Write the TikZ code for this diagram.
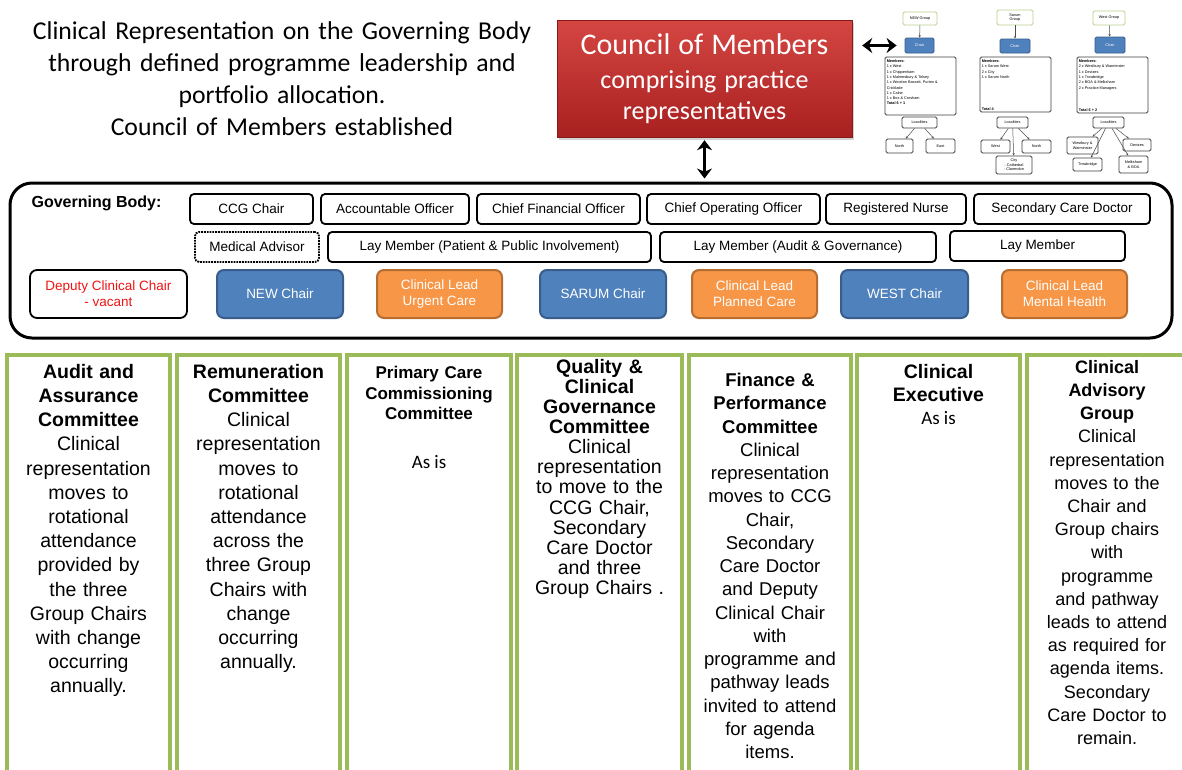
\documentclass[tikz,border=0pt]{standalone}
\usepackage{fontspec}
\setmainfont{Liberation Sans}
\newfontfamily\calfont{Carlito}
\usetikzlibrary{arrows.meta}
\usetikzlibrary{shadows}

\definecolor{chairblue}{RGB}{79,129,189}
\definecolor{chairedge}{RGB}{56,93,138}
\definecolor{leadorange}{RGB}{247,150,70}
\definecolor{leadedge}{RGB}{182,109,49}
\definecolor{comgreen}{RGB}{155,187,89}
\definecolor{counciltop}{RGB}{212,70,66}
\definecolor{councilbot}{RGB}{168,32,32}
\definecolor{vacantred}{RGB}{240,20,20}

\newcommand{\widesp}[1]{\spaceskip=#1\relax}

\tikzset{
  gbbox/.style={draw, line width=1.8pt, rounded corners=4pt, minimum height=30pt, inner sep=0pt, font=\fontsize{13.5}{16}\selectfont},
  chairbox/.style={fill=chairblue, draw=chairedge, line width=2pt, rounded corners=7pt, minimum height=48pt, text=white, align=center, inner sep=0pt, font=\fontsize{13.5}{16}\selectfont},
  leadbox/.style={chairbox, fill=leadorange, draw=leadedge},
  council/.style={top color=counciltop, bottom color=councilbot, draw=councilbot!80!black, line width=0.4pt, drop shadow={opacity=0.35, shadow xshift=2pt, shadow yshift=-3pt}, minimum width=295pt, minimum height=117pt, align=center, inner sep=0pt, text=white, font=\calfont\fontsize{26}{31}\selectfont\widesp{8pt}},
  combox/.style={draw=comgreen, line width=4pt, inner sep=0pt, outer sep=0pt, anchor=north west},
  comtext/.style={anchor=north, align=center, inner sep=0pt},
  minibox/.style={draw=black!75, line width=0.8pt, rounded corners=1.5pt, inner sep=0pt, fill=white, align=center, font=\fontsize{3.8}{4.4}\selectfont},
  minigroup/.style={minibox, draw=comgreen!70},
  minichair/.style={minibox, fill=chairblue, draw=chairedge, text=white},
  minilist/.style={anchor=north west, align=left, inner sep=0pt, font=\fontsize{3.8}{5.3}\selectfont},
  miniarrow/.style={-{Stealth[length=2.5pt,width=2.2pt]}, draw=black!70, line width=0.5pt},
  bigarrow/.style={{Stealth[length=10pt,width=15pt]}-{Stealth[length=10pt,width=15pt]}, line width=3.5pt},
}

\begin{document}
\begin{tikzpicture}[x=1pt, y=-1pt]
  \useasboundingbox (0,0) rectangle (1182,769);
  \fill[white] (0,0) rectangle (1182,769);
  \clip (0,0) rectangle (1182,769);

  % heading and council
  \node[anchor=north, align=center, text width=560pt, inner sep=0pt, font=\calfont\fontsize{25.7}{32}\selectfont\widesp{9.6pt}] (intro) at (282,21) {Clinical Representation on the Governing Body\\through defined programme leadership and\\portfolio allocation.\\Council of Members established};
  \node[council] (council) at (704.5,78.5) {{\fontsize{30}{36}\selectfont Council of Members}\\[3pt]comprising practice\\representatives};

  % group charts
  \node[minigroup, minimum width=34pt, minimum height=13pt] (ngroup) at (920,18.5) {NEW Group};
  \node[minichair, minimum width=29pt, minimum height=15pt] (nchair) at (919.5,45.5) {Chair};
  \node[minibox, minimum width=71pt, minimum height=58pt] (nmem) at (920.5,86) {};
  \node[minilist] (nlist) at ([xshift=2pt,yshift=-3pt]nmem.north west) {\textbf{Members:}\\1 x West\\1 x Chippenham\\1 x Malmesbury \& Tolsey\\1 x Wootton Bassett, Purton \&\\Cricklade\\1 x Calne\\1 x Box \& Corsham\\\textbf{Total 6 + 1}};
  \node[minibox, minimum width=35pt, minimum height=11pt] (nloc) at (919.5,122.5) {Localities};
  \node[minibox, minimum width=27pt, minimum height=14pt] (nnorth) at (899.5,146) {North};
  \node[minibox, minimum width=29pt, minimum height=14pt] (neast) at (940.5,146) {East};

  \node[minigroup, minimum width=36pt, minimum height=15pt] (sgroup) at (1015,17.5) {Sarum\\Group};
  \node[minichair, minimum width=30pt, minimum height=14pt] (schair) at (1015,46) {Chair};
  \node[minibox, minimum width=71pt, minimum height=55pt] (smem) at (1015.5,84.5) {};
  \node[minilist] (slist) at ([xshift=2pt,yshift=-3pt]smem.north west) {\textbf{Members:}\\1 x Sarum West\\2 x City\\1 x Sarum North};
  \node[minilist, anchor=south west] (stotal) at ([xshift=2pt,yshift=2pt]smem.south west) {\textbf{Total 4}};
  \node[minibox, minimum width=31pt, minimum height=11pt] (sloc) at (1012.5,122.5) {Localities};
  \node[minibox, minimum width=29pt, minimum height=13pt] (swest) at (995.5,146.5) {West};
  \node[minibox, minimum width=29pt, minimum height=13pt] (snorth) at (1036.5,146.5) {North};
  \node[minibox, minimum width=36pt, minimum height=18pt] (scity) at (1014,165) {City\\- Cathedral\\- Clarendon};

  \node[minigroup, minimum width=32pt, minimum height=14pt] (wgroup) at (1109,18) {West Group};
  \node[minichair, minimum width=30pt, minimum height=16pt] (wchair) at (1110,45) {Chair};
  \node[minibox, minimum width=71pt, minimum height=56pt] (wmem) at (1112.5,85) {};
  \node[minilist] (wlist) at ([xshift=2pt,yshift=-3pt]wmem.north west) {\textbf{Members:}\\2 x Westbury \& Warminster\\1 x Devizes\\1 x Trowbridge\\2 x BOA \& Melksham\\2 x Practice Managers};
  \node[minilist, anchor=south west] (wtotal) at ([xshift=2pt,yshift=2pt]wmem.south west) {\textbf{Total 6 + 2}};
  \node[minibox, minimum width=31pt, minimum height=11pt] (wloc) at (1108.5,122.5) {Localities};
  \node[minibox, minimum width=31pt, minimum height=17pt] (wwest) at (1082.5,145.5) {Westbury \&\\Warminster};
  \node[minibox, minimum width=28pt, minimum height=12pt] (wdev) at (1137,145) {Devizes};
  \node[minibox, minimum width=29pt, minimum height=13pt] (wtrow) at (1087.5,164.5) {Trowbridge};
  \node[minibox, minimum width=29pt, minimum height=17pt] (wmelk) at (1133.5,164.5) {Melksham\\\& BOA};

  \draw[miniarrow] (ngroup) -- (nchair);
  \draw[miniarrow] (nloc) -- (nnorth);
  \draw[miniarrow] (nloc) -- (neast);
  \draw[miniarrow] (sgroup) -- (schair);
  \draw[miniarrow] (sloc) -- (swest);
  \draw[miniarrow] (sloc) -- (scity);
  \draw[miniarrow] (sloc) -- (snorth);
  \draw[miniarrow] (wgroup) -- (wchair);
  \draw[miniarrow] (wloc) -- (wwest);
  \draw[miniarrow] (wloc) -- (wtrow);
  \draw[miniarrow] (wloc) -- (wmelk);
  \draw[miniarrow] (wloc) -- (wdev);

  % governing body
  \node[draw, line width=3pt, rounded corners=22pt, minimum width=1162pt, minimum height=155pt, inner sep=0pt] (gb) at (591,260.5) {};
  \node[inner sep=0pt, font=\bfseries\fontsize{16}{18}\selectfont] (gblabel) at (96.5,203.5) {Governing Body:};

  \node[gbbox, minimum width=123pt] (ccg) at (251.5,209) {CCG Chair};
  \node[gbbox, minimum width=148pt] (ao) at (395,209) {Accountable Officer};
  \node[gbbox, minimum width=163pt] (cfo) at (558.5,209) {Chief Financial Officer};
  \node[gbbox, minimum width=173pt] (coo) at (733.5,209) {Chief Operating Officer};
  \node[gbbox, minimum width=140pt] (nurse) at (896,209) {Registered Nurse};
  \node[gbbox, minimum width=176pt] (scd) at (1062,209) {Secondary Care Doctor};

  \node[gbbox, densely dotted, minimum width=124pt] (medadv) at (257,247) {Medical Advisor};
  \node[gbbox, minimum width=323pt] (layppi) at (489.5,247) {Lay Member (Patient \& Public Involvement)};
  \node[gbbox, minimum width=276pt] (layag) at (798,247) {Lay Member (Audit \& Governance)};
  \node[gbbox, minimum width=175pt] (lay) at (1037.5,246) {Lay Member};

  \node[chairbox, fill=white, draw=black, line width=1.8pt, text=vacantred, minimum width=157pt] (deputy) at (108.5,294) {Deputy Clinical Chair\\- vacant};
  \node[chairbox, minimum width=126pt] (newchair) at (280,294) {NEW Chair};
  \node[leadbox, minimum width=125pt] (urgent) at (439.5,294) {Clinical Lead\\Urgent Care};
  \node[chairbox, minimum width=126pt] (sarumchair) at (603,294) {SARUM Chair};
  \node[leadbox, minimum width=125pt] (planned) at (754.5,294) {Clinical Lead\\Planned Care};
  \node[chairbox, minimum width=127pt] (westchair) at (904.5,294) {WEST Chair};
  \node[leadbox, minimum width=125pt] (mental) at (1064.5,294) {Clinical Lead\\Mental Health};

  \draw[bigarrow, shorten <=3pt, shorten >=3pt] (council.south) -- (council.south |- gb.north);
  \draw[bigarrow, shorten <=10pt, shorten >=8pt] (nchair.west -| council.east) -- (nchair.west);

  % committees
  \node[combox, minimum width=163pt, minimum height=430pt] (col1) at (7,355) {};
  \node[combox, minimum width=163pt, minimum height=430pt] (col2) at (177,355) {};
  \node[combox, minimum width=164pt, minimum height=430pt] (col3) at (347,355) {};
  \node[combox, minimum width=165pt, minimum height=430pt] (col4) at (517,355) {};
  \node[combox, minimum width=162pt, minimum height=430pt] (col5) at (689,355) {};
  \node[combox, minimum width=163pt, minimum height=430pt] (col6) at (857,355) {};
  \node[combox, minimum width=168pt, minimum height=430pt] (col7) at (1027,355) {};

  \node[comtext, text width=158pt, font=\fontsize{19.5}{24.2}\selectfont] (col1text) at ([yshift=-9pt]col1.north) {\textbf{Audit and}\\\textbf{Assurance}\\\textbf{Committee}\\Clinical\\representation\\moves to\\rotational\\attendance\\provided by\\the three\\Group Chairs\\with change\\occurring\\annually.};
  \node[comtext, text width=158pt, font=\fontsize{19.5}{24.2}\selectfont] (col2text) at ([yshift=-9pt]col2.north) {\textbf{Remuneration}\\\textbf{Committee}\\Clinical\\representation\\moves to\\rotational\\attendance\\across the\\three Group\\Chairs with\\change\\occurring\\annually.};
  \node[comtext, text width=158pt, font=\bfseries\fontsize{17}{20.5}\selectfont] (col3text) at ([yshift=-11pt]col3.north) {Primary Care\\Commissioning\\Committee};
  \node[comtext, font=\calfont\fontsize{19}{23}\selectfont] (col3asis) at ([yshift=-100pt]col3.north) {As is};
  \node[comtext, text width=160pt, font=\fontsize{19.5}{20.1}\selectfont] (col4text) at ([yshift=-4pt]col4.north) {\textbf{Quality \&}\\\textbf{Clinical}\\\textbf{Governance}\\\textbf{Committee}\\Clinical\\representation\\to move to the\\CCG Chair,\\Secondary\\Care Doctor\\and three\\Group Chairs .};
  \node[comtext, text width=158pt, font=\fontsize{18.5}{23.25}\selectfont] (col5text) at ([yshift=-18pt]col5.north) {\textbf{Finance \&}\\\textbf{Performance}\\\textbf{Committee}\\Clinical\\representation\\moves to CCG\\Chair,\\Secondary\\Care Doctor\\and Deputy\\Clinical Chair\\with\\programme and\\pathway leads\\invited to attend\\for agenda\\items.};
  \node[comtext, text width=158pt, font=\bfseries\fontsize{19.5}{23}\selectfont] (col6text) at ([yshift=-9pt]col6.north) {Clinical\\Executive};
  \node[comtext, font=\calfont\fontsize{19}{23}\selectfont] (col6asis) at ([yshift=-56pt]col6.north) {As is};
  \node[comtext, text width=160pt, font=\fontsize{18}{23.2}\selectfont] (col7text) at ([xshift=-4pt,yshift=-5pt]col7.north) {\textbf{Clinical}\\\textbf{Advisory}\\\textbf{Group}\\Clinical\\representation\\moves to the\\Chair and\\Group chairs\\with\\programme\\and pathway\\leads to attend\\as required for\\agenda items.\\Secondary\\Care Doctor to\\remain.};
\end{tikzpicture}
\end{document}
